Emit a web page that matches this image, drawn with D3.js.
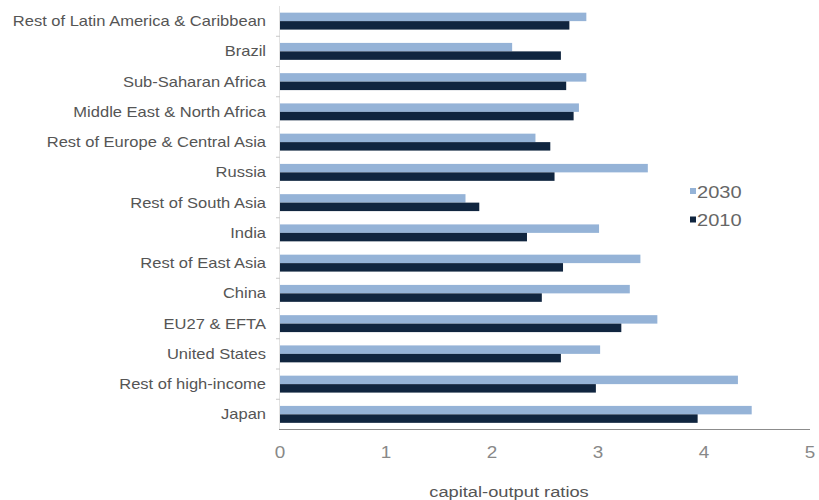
<!DOCTYPE html>
<html>
<head>
<meta charset="utf-8">
<script src="https://cdn.jsdelivr.net/npm/d3@7"></script>
<style>
  body { margin: 0; background: #fff; }
  svg { display: block; font-family: "Liberation Sans", Arial, sans-serif; }
</style>
</head>
<body>
<div id="chart"></div>
<script>
var regions = ["Rest of Latin America & Caribbean", "Brazil", "Sub-Saharan Africa",
  "Middle East & North Africa", "Rest of Europe & Central Asia", "Russia",
  "Rest of South Asia", "India", "Rest of East Asia", "China", "EU27 & EFTA",
  "United States", "Rest of high-income", "Japan"];
var years = ["2030", "2010"];
var ratio2030 = [2.89, 2.19, 2.89, 2.82, 2.41, 3.47, 1.75, 3.01, 3.40, 3.30, 3.56, 3.02, 4.32, 4.45];
var ratio2010 = [2.73, 2.65, 2.70, 2.77, 2.55, 2.59, 1.88, 2.33, 2.67, 2.47, 3.22, 2.65, 2.98, 3.94];
var xTicks = [0, 1, 2, 3, 4, 5];
var xTitle = "capital-output ratios";

var colors = {"2030": "#95b3d7", "2010": "#10253f"};
var stretch = 1.18; // the source text is drawn a bit wide

var W = 819, H = 500;
var x0 = 280, x1 = 810, yTop = 6, yBot = 429.5;

var svg = d3.select("#chart").append("svg")
    .attr("width", W)
    .attr("height", H);

var x = d3.scaleLinear().domain([0, 5]).range([x0, x1]);
var y = d3.scaleBand().domain(regions).range([yTop, yBot]).paddingInner(0.44).paddingOuter(0.22);
var ySub = d3.scaleBand().domain(years).range([0, y.bandwidth()]);

var rows = regions.map(function(r, i) {
  return {region: r, values: [{year: "2030", v: ratio2030[i]}, {year: "2010", v: ratio2010[i]}]};
});

function label(g, px, py, txt, size, anchor, fill) {
  g.append("text")
    .attr("transform", "translate(" + px + "," + py + ") scale(" + stretch + ",1)")
    .attr("text-anchor", anchor)
    .attr("font-size", size)
    .attr("fill", fill)
    .text(txt);
}

// bars
var groups = svg.append("g").selectAll("g")
  .data(rows)
  .join("g")
    .attr("transform", function(d) { return "translate(0," + y(d.region) + ")"; });

groups.selectAll("rect")
  .data(function(d) { return d.values; })
  .join("rect")
    .attr("x", x(0))
    .attr("y", function(d) { return ySub(d.year); })
    .attr("width", function(d) { return x(d.v) - x(0); })
    .attr("height", ySub.bandwidth())
    .attr("fill", function(d) { return colors[d.year]; });

// y axis: faint line plus small ticks between categories
var step = y.step();
svg.append("line")
  .attr("x1", x0 - 0.5).attr("x2", x0 - 0.5)
  .attr("y1", yTop).attr("y2", yBot)
  .attr("stroke", "#e2e2e2");
regions.forEach(function(r, i) {
  var ty = y(r) - (step - y.bandwidth()) / 2;
  if (i === 0) return;
  svg.append("line")
    .attr("x1", x0 - 4).attr("x2", x0)
    .attr("y1", ty).attr("y2", ty)
    .attr("stroke", "#c8c8c8");
});

// x axis line
svg.append("line")
  .attr("x1", x0 - 1).attr("x2", x1)
  .attr("y1", yBot).attr("y2", yBot)
  .attr("stroke", "#8c8c8c")
  .attr("stroke-width", 1.2);

// category labels
var lab = svg.append("g");
regions.forEach(function(r) {
  label(lab, 266, y(r) + y.bandwidth() / 2 + 5, r, 14, "end", "#555");
});

// x tick labels
var tk = svg.append("g");
xTicks.forEach(function(t) {
  label(tk, x(t), 458, t, 16, "middle", "#888");
});

// axis title
label(svg, 509, 497, xTitle, 15.5, "middle", "#555");

// legend
var leg = svg.append("g");
years.forEach(function(yr, i) {
  var ly = 191.5 + i * 28.5;
  leg.append("rect")
    .attr("x", 690).attr("y", ly - 3.5)
    .attr("width", 6).attr("height", 6)
    .attr("fill", colors[yr]);
  label(leg, 697, ly + 6, yr, 17, "start", "#666");
});
</script>
</body>
</html>
